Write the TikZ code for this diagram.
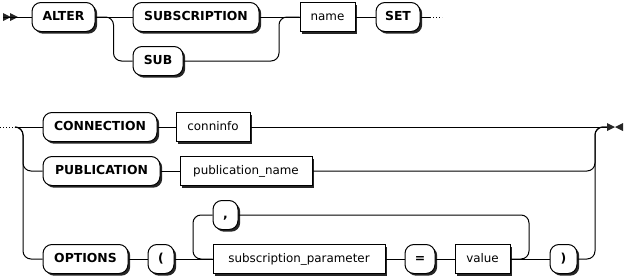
\documentclass[tikz,border=0pt]{standalone}
\usepackage{fontspec}
\setmainfont{DejaVu Sans}
\usetikzlibrary{shadows}
\begin{document}
\begin{tikzpicture}[
  x=1pt, y=-1pt,
  box/.style={draw, line width=1pt, fill=white, minimum height=29pt, inner sep=0pt,
    text height=9pt, text depth=2.5pt, font=\fontsize{11.9}{14}\selectfont,
    drop shadow={shadow xshift=2.2pt, shadow yshift=-2.2pt, fill=black!85, opacity=1}},
  term/.style={box, rounded corners=9pt, font=\fontsize{12.4}{14}\selectfont\bfseries},
  nonterm/.style={box},
  line/.style={line width=1pt, rounded corners=8pt},
  marker/.style={fill=black!85}
]
  \useasboundingbox (0,0) rectangle (625,279);

  \node[term, minimum width=63pt] (alter) at (63.5,17) {ALTER};
  \node[term, minimum width=126pt] (subscription) at (196,17) {SUBSCRIPTION};
  \node[term, minimum width=50pt] (sub) at (158,61) {SUB};
  \node[nonterm, minimum width=55pt] (name) at (327.5,17) {name};
  \node[term, minimum width=44pt] (set) at (398,17) {SET};

  \node[term, minimum width=114pt] (connection) at (100,127) {CONNECTION};
  \node[nonterm, minimum width=74pt] (conninfo) at (213,127) {conninfo};
  \node[term, minimum width=117pt] (publication) at (101.5,171) {PUBLICATION};
  \node[nonterm, minimum width=132pt] (pubname) at (246,171) {publication\_name};
  \node[term, minimum width=85pt] (options) at (85.5,259) {OPTIONS};
  \node[term, minimum width=26pt] (lparen) at (161,259) {(};
  \node[term, minimum width=25pt] (comma) at (225.5,215) {,};
  \node[nonterm, minimum width=172pt] (param) at (299,259) {subscription\_parameter};
  \node[term, minimum width=30pt] (equals) at (420,259) {=};
  \node[nonterm, minimum width=55pt] (value) at (482.5,259) {value};
  \node[term, minimum width=27pt] (rparen) at (563.5,259) {)};

  \coordinate (start) at (3,17);
  \coordinate (join1) at (279,17);
  \coordinate (setout) at (430,17);
  \coordinate (cont1) at (442,17);
  \coordinate (cont2) at (0,127);
  \coordinate (in2) at (15,127);
  \coordinate (split2) at (23,127);
  \coordinate (loopL) at (193,259);
  \coordinate (loopR) at (529,259);
  \coordinate (join2) at (595,127);
  \coordinate (stop) at (607,127);

  \fill[marker] (start) -- ++(0,-4) -- ++(8,4) -- ++(-8,4) -- cycle;
  \fill[marker] (start) ++(7,0) -- ++(0,-4) -- ++(8,4) -- ++(-8,4) -- cycle;
  \draw[line] (start) -- (alter.west);
  \draw[line] (alter.east) -- (subscription.west);
  \draw[line] (alter.east) -- ++(18,0) |- (sub.west);
  \draw[line] (subscription.east) -- (name.west);
  \draw[line] (sub.east) -| (join1) -- (name.west);
  \draw[line] (name.east) -- (set.west);
  \draw[line] (set.east) -- (setout);
  \draw[line, dotted] (setout) -- (cont1);

  \draw[line, dotted] (cont2) -- (in2);
  \draw[line] (in2) -- (connection.west);
  \draw[line] (in2) -- (split2) |- (publication.west);
  \draw[line] (in2) -- (split2) |- (options.west);
  \draw[line] (connection.east) -- (conninfo.west);
  \draw[line] (publication.east) -- (pubname.west);
  \draw[line] (options.east) -- (lparen.west);
  \draw[line] (lparen.east) -- (param.west);
  \draw[line] (comma.west) -| (loopL) -- (param.west);
  \draw[line] (comma.east) -| (loopR) -- (value.east);
  \draw[line] (param.east) -- (equals.west);
  \draw[line] (equals.east) -- (value.west);
  \draw[line] (value.east) -- (rparen.west);
  \draw[line] (conninfo.east) -- (stop);
  \draw[line] (pubname.east) -| (join2) -- (stop);
  \draw[line] (rparen.east) -| (join2) -- (stop);
  \fill[marker] (stop) -- ++(0,-4) -- ++(8,4) -- ++(-8,4) -- cycle;
  \fill[marker] (stop) ++(16,0) -- ++(0,-4) -- ++(-8,4) -- ++(8,4) -- cycle;
\end{tikzpicture}
\end{document}
